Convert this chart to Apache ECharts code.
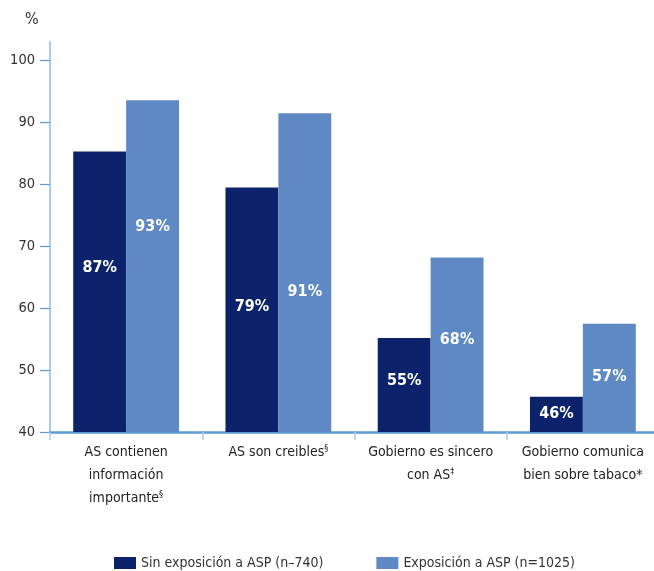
<!DOCTYPE html>
<html>
<head>
<meta charset="utf-8">
<script src="https://cdn.jsdelivr.net/npm/echarts@6/dist/echarts.min.js"></script>
<style>
html,body{margin:0;padding:0;background:#fff;overflow:hidden;}
#chart{width:664px;height:571px;}
</style>
</head>
<body>
<div id="chart"></div>
<script>
// ---- data ----
const categories = ['AS contienen\ninformación\nimportante', 'AS son creibles', 'Gobierno es sincero\ncon AS', 'Gobierno comunica\nbien sobre tabaco*'];
const categoryMarks = ['§', '§', '‡', ''];
const seriesNames = ['Sin exposición a ASP (n–740)', 'Exposición a ASP (n=1025)'];
const sinValues = [85.3, 79.5, 55.2, 45.7];
const conValues = [93.6, 91.5, 68.2, 57.5];
const sinLabels = ['87%', '79%', '55%', '46%'];
const conLabels = ['93%', '91%', '68%', '57%'];
const yTicks = [40, 50, 60, 70, 80, 90, 100];

// ---- styling ----
const FONT = "'Liberation Sans Narrow', 'DejaVu Sans Condensed', 'Noto Sans', sans-serif";
const DARK = '#0c236b';
const LIGHT = '#5e89c4';
const sinOffsets = [-24, -3, -4, -1];
const conOffsets = [-39, 19, -5, -1];

function buildData(vals, labels, offsets) {
  return vals.map((v, i) => ({
    value: v,
    label: { formatter: labels[i], offset: [0, offsets[i]] }
  }));
}

const chart = echarts.init(document.getElementById('chart'), null, { renderer: 'canvas' });
chart.setOption({
  animation: false,
  backgroundColor: '#fff',
  textStyle: { fontFamily: FONT },
  grid: { left: 50, width: 609, top: 42, bottom: 139, containLabel: false },
  legend: {
    left: 114, top: 556, padding: 0,
    itemWidth: 22, itemHeight: 12, itemGap: 53,
    icon: 'rect',
    textStyle: { fontFamily: FONT, fontSize: 14, color: '#333' },
    data: seriesNames
  },
  graphic: [{
    type: 'text', left: 25, top: 12,
    style: { text: '%', fontFamily: FONT, fontSize: 16, fill: '#333' }
  }],
  xAxis: {
    type: 'category',
    data: categories.map((c, i) => categoryMarks[i] ? c + '{s|' + categoryMarks[i] + '}' : c),
    axisLine: { lineStyle: { color: '#5b9bd5', width: 2.5 } },
    axisTick: { show: true, length: 8, lineStyle: { color: '#a9cce9', width: 1.5 } },
    axisLabel: {
      interval: 0, margin: 9,
      fontFamily: FONT, fontSize: 14, color: '#222', lineHeight: 23,
      rich: { s: { fontFamily: FONT, fontSize: 9, color: '#222', padding: [0, 0, 8, 0] } }
    }
  },
  yAxis: {
    type: 'value', min: 40, max: 103,
    splitLine: { show: false },
    axisLine: { show: true, lineStyle: { color: '#a9cce9', width: 2 } },
    axisTick: { show: true, length: 10, customValues: yTicks, lineStyle: { color: '#5b9bd5', width: 1.2 } },
    axisLabel: { customValues: yTicks, margin: 15, fontFamily: FONT, fontSize: 14.5, color: '#333' }
  },
  series: [
    {
      name: seriesNames[0], type: 'bar', barGap: '0%', barCategoryGap: '30.5%',
      itemStyle: { color: DARK },
      label: { show: true, position: 'inside', color: '#fff', fontWeight: 'bold', fontSize: 16, fontFamily: FONT },
      data: buildData(sinValues, sinLabels, sinOffsets)
    },
    {
      name: seriesNames[1], type: 'bar', barGap: '0%', barCategoryGap: '30.5%',
      itemStyle: { color: LIGHT },
      label: { show: true, position: 'inside', color: '#fff', fontWeight: 'bold', fontSize: 16, fontFamily: FONT },
      data: buildData(conValues, conLabels, conOffsets)
    }
  ]
});
</script>
</body>
</html>
